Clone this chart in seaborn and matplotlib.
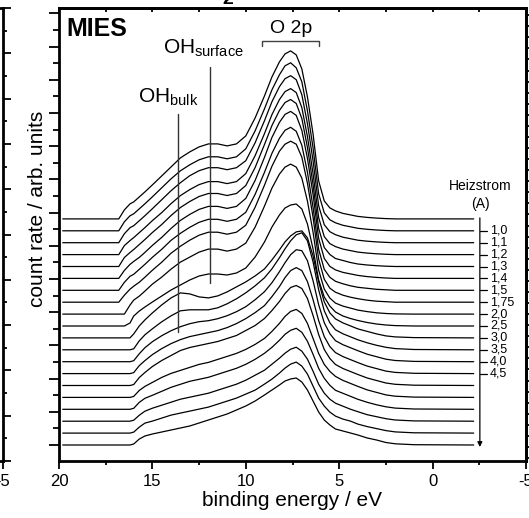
import numpy as np
import pandas as pd
import seaborn as sns
import matplotlib.pyplot as plt
from matplotlib.ticker import NullFormatter

# gemeinsames Energieraster (eV), alle Spektren
energy = [19.8, 16.8, 16.5, 16.2, 16.0, 15.7, 15.4, 15.0, 14.5, 14.0, 13.5, 13.0, 12.5, 12.0,
          11.5, 11.0, 10.5, 10.0, 9.5, 9.0, 8.6, 8.2, 7.9, 7.6, 7.3, 7.0, 6.7, 6.4, 6.1, 5.8,
          5.5, 5.2, 4.8, 4.4, 4.0, 3.5, 3.0, 2.5, 2.0, 1.0, -2.2]

# MIES Spektren (Hoehe ueber der jeweiligen Basislinie, arb. units), von oben nach unten
c01 = [0, 0, 9, 15, 17, 22, 27, 34, 43, 52, 61, 67, 72, 75, 75, 73, 75, 83, 101, 123, 142, 157, 165, 168, 164, 150, 122, 85, 38, 18, 11, 8, 5.5, 4, 2.5, 1.5, 0.8, 0.3, 0, 0, 0]
c02 = [0, 0, 9, 15, 17, 22, 27, 34, 43, 52, 60, 66, 71, 74, 74, 72, 74, 82, 100, 122, 141, 156, 165, 168, 163, 149, 120, 83, 37, 18, 11, 8, 5.5, 4, 2.5, 1.5, 0.8, 0.3, 0, 0, 0]
c03 = [0, 0, 9, 15, 17, 22, 27, 34, 43, 52, 60, 67, 72, 75, 75, 73, 75, 82, 100, 122, 141, 156, 164, 167, 163, 148, 119, 82, 37, 18, 11, 8, 5.5, 4, 2.5, 1.5, 0.8, 0.3, 0, 0, 0]
c04 = [0, 0, 9, 14, 17, 22, 27, 34, 42, 51, 59, 65, 70, 73, 73, 71, 73, 81, 99, 121, 140, 155, 163, 166, 162, 147, 118, 81, 37, 18, 11, 8, 5.5, 4, 2.5, 1.5, 0.8, 0.3, 0, 0, 0]
c05 = [0, 0, 9, 14, 17, 22, 27, 34, 42, 51, 59, 65, 70, 73, 73, 71, 73, 81, 99, 122, 141, 156, 164, 167, 163, 148, 119, 82, 38, 19, 12, 8, 6, 4, 2.5, 1.5, 0.8, 0.3, 0, 0, 0]
c06 = [0, 0, 8, 14, 17, 21, 26, 33, 41, 50, 58, 64, 69, 72, 72, 70, 72, 80, 98, 121, 141, 156, 164, 167, 163, 148, 120, 84, 40, 20, 12, 8.5, 6, 4.5, 3, 1.8, 1, 0.4, 0, 0, 0]
c07 = [0, 0, 8, 14, 16, 21, 26, 33, 41, 50, 57, 63, 68, 71, 71, 69, 71, 78, 96, 118, 137, 152, 160, 163, 159, 145, 118, 83, 41, 21, 13, 9, 6.5, 4.5, 3, 2, 1, 0.5, 0, 0, 0]
c08 = [0, 0, 7, 13, 16, 20, 25, 32, 40, 49, 56, 62, 67, 70, 70, 68, 70, 77, 95, 117, 136, 151, 158, 161, 158, 145, 119, 85, 43, 23, 14, 10, 7, 5, 3.5, 2, 1, 0.5, 0, 0, 0]
c09 = [0, 0, 0, 9, 14, 18, 23, 30, 37, 45, 52, 57, 62, 65, 65, 63, 65, 71, 87, 108, 126, 140, 147, 150, 147, 136, 113, 82, 44, 25, 16, 11, 8, 6, 4, 2.5, 1.3, 0.6, 0.2, 0, 0]
c10 = [0, 0, 0, 3, 10, 15, 19, 24, 30, 36, 41, 46, 50, 52, 52, 51, 53, 58, 69, 84, 99, 111, 118, 121, 122, 117, 102, 77, 46, 29, 20, 14, 10, 7.5, 5.5, 3.5, 2, 1, 0.4, 0, 0]
c11 = [0, 0, 0, 0, 4, 12, 18, 25, 33, 40, 45, 44, 41, 40, 42, 46, 51, 56, 62, 69, 78, 88, 96, 102, 106, 107, 100, 82, 56, 36, 25, 19, 15, 12, 9, 6.5, 4, 2, 1, 0.3, 0]
c12 = [0, 0, 0, 0, 1, 9, 15, 21, 28, 34, 39, 40, 40, 40, 42, 46, 51, 57, 64, 72, 81, 92, 101, 109, 115, 117, 109, 88, 60, 39, 27, 20, 16, 13, 10, 7, 4.5, 2.5, 1.2, 0.3, 0]
c13 = [0, 0, 0, 0, 1, 8, 14, 20, 26, 31, 35, 38, 40, 41, 43, 46, 50, 55, 62, 70, 79, 90, 99, 107, 112, 111, 101, 81, 57, 39, 28, 21, 17, 14, 11, 7.5, 5, 2.5, 1.2, 0.3, 0]
c14 = [0, 0, 0, 0, 1, 8, 13, 19, 25, 30, 34, 37, 39, 41, 43, 46, 50, 55, 61, 68, 77, 87, 96, 103, 106, 103, 92, 74, 53, 37, 27, 21, 17, 14, 11, 7.5, 5, 2.5, 1.2, 0.3, 0]
c15 = [0, 0, 0, 0, 1, 8, 13, 19, 25, 30, 35, 38, 40, 42, 44, 47, 50, 55, 60, 67, 75, 84, 92, 98, 100, 97, 87, 70, 51, 36, 27, 21, 17, 14, 11, 7.5, 5, 2.5, 1.2, 0.3, 0]
c16 = [0, 0, 0, 0, 1, 7, 11, 15, 20, 24, 27, 30, 33, 35, 38, 41, 44, 48, 53, 59, 66, 74, 81, 86, 88, 84, 74, 59, 44, 33, 26, 21, 17, 14, 11, 7.5, 5, 2.5, 1.2, 0.3, 0]
c17 = [0, 0, 0, 0, 1, 7, 11, 14, 18, 22, 25, 28, 30, 32, 35, 38, 41, 45, 50, 56, 62, 69, 75, 79, 81, 77, 68, 55, 41, 31, 24, 19, 16, 13, 10, 7, 4.5, 2.5, 1.2, 0.3, 0]
c18 = [0, 0, 0, 0, 1, 6, 10, 13, 16, 19, 22, 24, 26, 28, 31, 34, 37, 41, 46, 51, 57, 63, 68, 72, 74, 70, 62, 50, 37, 28, 22, 18, 15, 12, 9.5, 6.5, 4.5, 2.5, 1.2, 0.3, 0]
c19 = [0, 0, 0, 0, 1, 6, 10, 12, 15, 18, 20, 22, 24, 26, 29, 32, 35, 39, 43, 49, 54, 60, 65, 69, 71, 67, 59, 47, 35, 27, 21, 17, 14, 12, 9, 6.5, 4.5, 2.5, 1.2, 0.3, 0]
c20 = [0, 0, 0, 0, 1, 6, 9, 11, 13, 15, 17, 19, 22, 25, 28, 31, 35, 39, 44, 50, 55, 60, 64, 66, 67, 63, 55, 44, 33, 25, 20, 16, 14, 12, 10, 7, 5, 2.5, 1.2, 0.3, 0]
spectra = [c01, c02, c03, c04, c05, c06, c07, c08, c09, c10,
           c11, c12, c13, c14, c15, c16, c17, c18, c19, c20]

# Heizstrom (A) fuer Kurve 2 bis 14
heizstrom = ['1,0', '1,1', '1,2', '1,3', '1,4', '1,5', '1,75', '2,0', '2,5', '3,0', '3,5', '4,0', '4,5']

# Versatz der Kurven
step = 11.9
base = 16.0
n = len(spectra)
offsets = [base + step * (n - 1 - i) for i in range(n)]

rows = []
for i, h in enumerate(spectra):
    for e, v in zip(energy, h):
        rows.append((i, e, v + offsets[i]))
df = pd.DataFrame(rows, columns=['curve', 'energy', 'counts'])

sns.set_theme(style='ticks', rc={'axes.edgecolor': 'black', 'xtick.color': 'black',
                                 'ytick.color': 'black', 'text.color': 'black',
                                 'axes.labelcolor': 'black'})
plt.rcParams['font.family'] = ['Liberation Sans', 'DejaVu Sans']
plt.rcParams['mathtext.fontset'] = 'custom'
plt.rcParams['mathtext.rm'] = 'Liberation Sans'
plt.rcParams['axes.unicode_minus'] = False

W, H = 529, 518
fig = plt.figure(figsize=(W / 100, H / 100), dpi=100)
ax_box = [59 / W, 57 / H, 467 / W, 453 / H]
xt_major = [20, 15, 10, 5, 0, -5]
xt_minor = [17.5, 12.5, 7.5, 2.5, -2.5]

# Nachbarpanel links (nur rechter Rand sichtbar)
ax0 = fig.add_axes([(3 - 467) / W, 57 / H, 467 / W, 453 / H])
ax0.set_xlim(20, -5)
ax0.set_ylim(0, 453)
ax0.set_xticks(xt_major, labels=['', '', '', '', '', '-5'])
ax0.set_xticks(xt_minor, minor=True)
ax0.set_yticks(np.arange(0, 454, 45.3))
ax0.set_yticks(np.arange(22.65, 454, 45.3), minor=True)
ax0.yaxis.tick_right()
ax0.yaxis.set_major_formatter(NullFormatter())
ax0.tick_params(axis='x', which='major', direction='out', length=6, width=1.3, labelsize=12, pad=3.5)
ax0.tick_params(axis='x', which='minor', direction='out', length=3, width=1.3)
ax0.tick_params(axis='y', which='major', direction='out', length=6, width=1.3)
ax0.tick_params(axis='y', which='minor', direction='out', length=3, width=1.3)
for s in ax0.spines.values():
    s.set_linewidth(2)

# Hauptpanel
ax = fig.add_axes(ax_box)
sns.lineplot(data=df, x='energy', y='counts', units='curve', estimator=None,
             color='black', lw=0.9, sort=False, legend=False, ax=ax)
ax.set_xlim(20, -5)
ax.set_ylim(0, 453)
ax.set_xticks(xt_major)
ax.set_xticks(xt_minor, minor=True)
y_major = np.arange(16, 453, 33.2)
ax.set_yticks(y_major)
ax.set_yticks(y_major[1:] - 16.6, minor=True)
ax.yaxis.set_major_formatter(NullFormatter())
ax.tick_params(axis='x', which='major', direction='out', length=6, width=1.3, labelsize=12, pad=3.5)
ax.tick_params(axis='x', which='minor', direction='out', length=3, width=1.3)
ax.tick_params(axis='y', which='major', direction='out', length=7, width=1.3, right=False)
ax.tick_params(axis='y', which='minor', direction='out', length=4, width=1.3, right=False)
for s in ax.spines.values():
    s.set_linewidth(2)

ax_t = ax.secondary_xaxis('top')
ax_t.set_xticks(xt_major + xt_minor)
ax_t.xaxis.set_major_formatter(NullFormatter())
ax_t.tick_params(direction='in', length=3, width=1.3)
ax_t.spines['top'].set_linewidth(2)

ax_r = ax.secondary_yaxis('right')
ax_r.set_yticks(np.arange(3, 453, 11.07))
ax_r.yaxis.set_major_formatter(NullFormatter())
ax_r.tick_params(direction='out', length=5, width=1.3)
ax_r.spines['right'].set_linewidth(2)

ax.set_xlabel('binding energy / eV', fontsize=15)
ax.xaxis.set_label_coords(0.5, -0.066)
ax.set_ylabel('count rate / arb. units', fontsize=15)
ax.yaxis.set_label_coords(-0.025, 0.557)

# Beschriftungen
ax.text(19.6, 425, 'MIES', fontsize=18, fontweight='bold', ha='left', va='baseline')
ax.text(7.58, 428, 'O 2p', fontsize=14, ha='center', va='baseline')
ax.plot([9.13, 9.13, 6.08, 6.08], [415, 420, 420, 415], color='0.25', lw=1.0)
ax.text(15.77, 359, r'OH$_{\mathregular{bulk}}$', fontsize=15, ha='left', va='baseline')
ax.plot([13.63, 13.63], [129, 347], color='0.2', lw=1.0)
ax.text(14.43, 408, r'OH$_{\mathregular{surface}}$', fontsize=15, ha='left', va='baseline')
ax.plot([11.92, 11.92], [178, 394], color='0.2', lw=1.0)

# Heizstrom Pfeil und Marken
ax.text(-2.54, 271, 'Heizstrom', fontsize=10, ha='center', va='baseline')
ax.text(-2.54, 253, '(A)', fontsize=10, ha='center', va='baseline')
ax.annotate('', xy=(-2.53, 14), xytext=(-2.53, offsets[0] + 1),
            arrowprops=dict(arrowstyle='-|>', lw=0.9, color='black', mutation_scale=7,
                            shrinkA=0, shrinkB=0))
for k, lab in enumerate(heizstrom):
    yy = offsets[k + 1]
    ax.plot([-2.53, -2.9], [yy, yy], color='black', lw=0.9)
    ax.text(-3.08, yy, lab, fontsize=9, ha='left', va='center')

# Rest eines Titels oberhalb
fig.text(228 / W, 1 - 4 / H, '2', fontsize=14, fontweight='bold', ha='center', va='baseline')

fig.savefig('out.png', dpi=100)
